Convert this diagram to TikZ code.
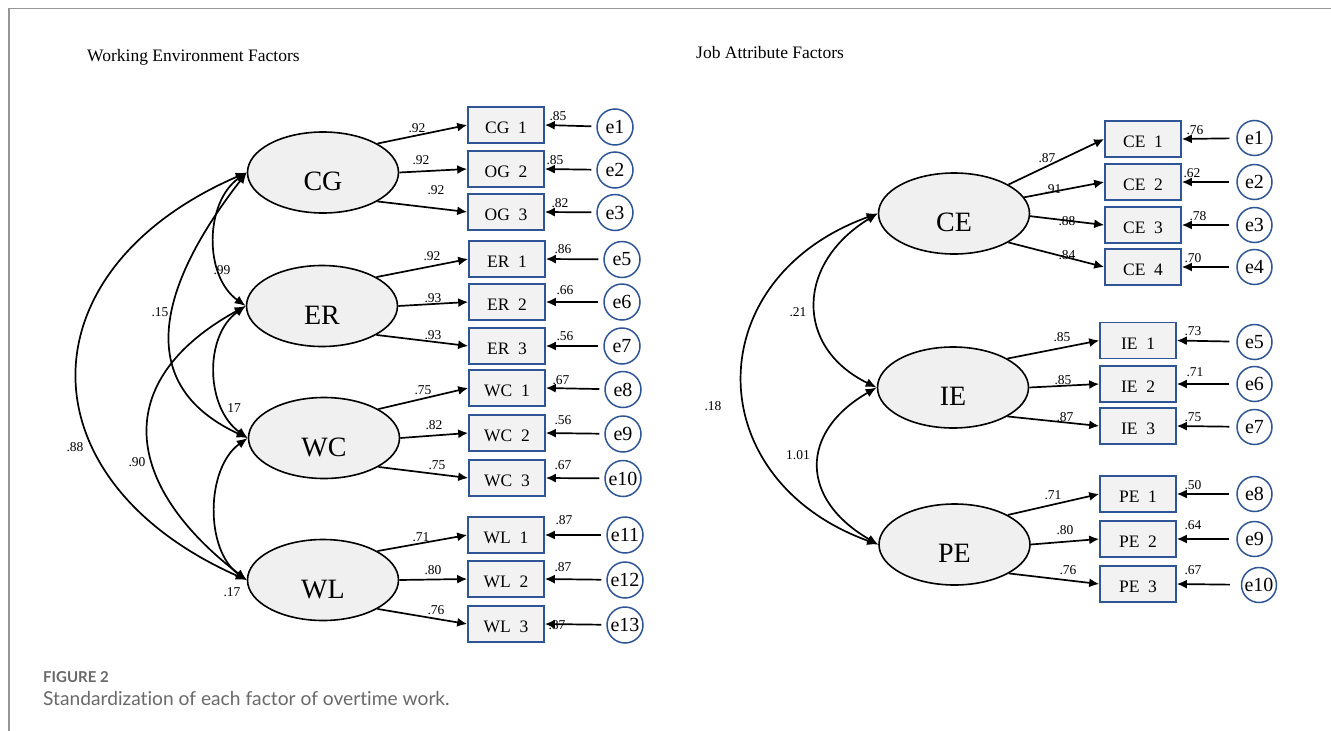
\documentclass[tikz,border=0pt]{standalone}
\usepackage{fontspec}
\setmainfont{Liberation Serif}
\newfontfamily\capfont[Ligatures={NoCommon}]{Lato}
\usetikzlibrary{arrows.meta,shapes.geometric}
\definecolor{boxblue}{RGB}{47,85,151}
\definecolor{boxfill}{RGB}{242,242,242}
\definecolor{latfill}{RGB}{240,240,240}
\definecolor{framegray}{RGB}{150,150,150}
\definecolor{capgray}{RGB}{105,105,105}
\begin{document}
\begin{tikzpicture}[x=1pt,y=-1pt,
 lat/.style={ellipse,draw,line width=1.6pt,fill=latfill,minimum width=151pt,minimum height=81pt,inner sep=0pt,text height=36pt,text depth=0pt,font=\fontsize{28}{30}\selectfont},
 obs/.style={rectangle,draw=boxblue,line width=1.6pt,fill=boxfill,minimum width=76pt,minimum height=36pt,inner sep=0pt,text height=17.5pt,text depth=0pt,font=\fontsize{17.5}{20}\selectfont},
 err/.style={circle,draw=boxblue,line width=1.5pt,minimum size=36pt,inner sep=0pt,font=\fontsize{20}{22}\selectfont},
 num/.style={inner sep=0pt,font=\fontsize{13.5}{14}\selectfont},
 ttl/.style={inner sep=0pt,anchor=west,font=\fontsize{17.5}{20}\selectfont},
 arr/.style={line width=1.7pt,-{Latex[length=10pt,width=9pt]}},
 earr/.style={line width=1.7pt,-{Latex[length=10pt,width=9pt]},shorten <=5pt},
 cov/.style={line width=1.7pt,{Latex[length=11pt,width=9pt]}-{Latex[length=11pt,width=9pt]}},
]
\useasboundingbox (0,0) rectangle (1331,731);
\fill[white] (0,0) rectangle (1331,731);
\draw[framegray,line width=1.3pt] (1331,8.5) -- (9,8.5) -- (9,731);

% titles
\node[ttl] (t1) at (87,57) {Working Environment Factors};
\node[ttl] (t2) at (696,53) {Job Attribute Factors};

% caption
\node[inner sep=0pt,anchor=west,text=capgray,font=\capfont\bfseries\fontsize{15}{16}\selectfont] (cap1) at (43,677) {FIGURE 2};
\node[inner sep=0pt,anchor=west,text=capgray,font=\capfont\fontsize{19.2}{21}\selectfont] (cap2) at (43,698) {Standardization of each factor of overtime work.};

% ---------------- left model ----------------
\node[lat] (CG) at (323,172.5) {CG};
\node[lat] (ER) at (322,306) {ER};
\node[lat] (WC) at (324,438) {WC};
\node[lat] (WL) at (323,580) {WL};

\node[obs] (CG1) at (506,125) {CG\ \ 1};
\node[obs] (OG2) at (506,169) {OG\ \ 2};
\node[obs] (OG3) at (506,212) {OG\ \ 3};
\node[obs] (ER1) at (507,259) {ER\ \ 1};
\node[obs] (ER2) at (507,302) {ER\ \ 2};
\node[obs] (ER3) at (507,346) {ER\ \ 3};
\node[obs] (WC1) at (507,388) {WC\ \ 1};
\node[obs] (WC2) at (507,433) {WC\ \ 2};
\node[obs] (WC3) at (507,478) {WC\ \ 3};
\node[obs] (WL1) at (506,535) {WL\ \ 1};
\node[obs] (WL2) at (506,579) {WL\ \ 2};
\node[obs] (WL3) at (506,624) {WL\ \ 3};

\node[err] (a1) at (615,127) {e1};
\node[err] (a2) at (615,170) {e2};
\node[err] (a3) at (615,212.5) {e3};
\node[err] (a5) at (622,259.5) {e5};
\node[err] (a6) at (622,302) {e6};
\node[err] (a7) at (622,346) {e7};
\node[err] (a8) at (623,389.5) {e8};
\node[err] (a9) at (623,434) {e9};
\node[err] (a10) at (623,478.5) {e10};
\node[err] (a11) at (625,535) {e11};
\node[err] (a12) at (625,580) {e12};
\node[err] (a13) at (625,625) {e13};

\draw[arr] (CG.28) -- (CG1.west);
\draw[arr] (CG.0) -- (OG2.west);
\draw[arr] (CG.-28) -- (OG3.west);
\draw[arr] (ER.28) -- (ER1.west);
\draw[arr] (ER.0) -- (ER2.west);
\draw[arr] (ER.-28) -- (ER3.west);
\draw[arr] (WC.28) -- (WC1.west);
\draw[arr] (WC.0) -- (WC2.west);
\draw[arr] (WC.-28) -- (WC3.west);
\draw[arr] (WL.28) -- (WL1.west);
\draw[arr] (WL.0) -- (WL2.west);
\draw[arr] (WL.-28) -- (WL3.west);

\draw[earr] (a1) -- (CG1.east);
\draw[earr] (a2) -- (OG2.east);
\draw[earr] (a3) -- (OG3.east);
\draw[earr] (a5) -- (ER1.east);
\draw[earr] (a6) -- (ER2.east);
\draw[earr] (a7) -- (ER3.east);
\draw[earr] (a8) -- (WC1.east);
\draw[earr] (a9) -- (WC2.east);
\draw[earr] (a10) -- (WC3.east);
\draw[earr] (a11) -- (WL1.east);
\draw[earr] (a12) -- (WL2.east);
\draw[earr] (a13) -- (WL3.east);

\node[num] (l1) at (417,128) {.92};
\node[num] (l2) at (421,160) {.92};
\node[num] (l3) at (436,190) {.92};
\node[num] (l4) at (432,256) {.92};
\node[num] (l5) at (433,298) {.93};
\node[num] (l6) at (433,335) {.93};
\node[num] (l7) at (423,390) {.75};
\node[num] (l8) at (434,425) {.82};
\node[num] (l9) at (437,465) {.75};
\node[num] (l10) at (421,537) {.71};
\node[num] (l11) at (433,570) {.80};
\node[num] (l12) at (436,610) {.76};

\node[num] (r1) at (558,116) {.85};
\node[num] (r2) at (555,160) {.85};
\node[num] (r3) at (560,203) {.82};
\node[num] (r4) at (563,249) {.86};
\node[num] (r5) at (565,290) {.66};
\node[num] (r6) at (565,336) {.56};
\node[num] (r7) at (561,380) {.67};
\node[num] (r8) at (563,420) {.56};
\node[num] (r9) at (563,465) {.67};
\node[num] (r10) at (564,520) {.87};
\node[num] (r11) at (563,567) {.87};
\node[num] (r12) at (557,625) {.87};

\draw[cov] (CG.west) .. controls +(-42,30) and +(-42,-30) .. (ER.west);
\draw[cov] (ER.west) .. controls +(-42,30) and +(-42,-30) .. (WC.west);
\draw[cov] (WC.west) .. controls +(-42,30) and +(-42,-30) .. (WL.west);
\draw[cov] (CG.west) .. controls +(-70,90) and +(-130,-60) .. (WC.west);
\draw[cov] (ER.west) .. controls +(-136.5,75) and +(-123.5,-95) .. (WL.west);
\draw[cov] (CG.west) .. controls +(-225,97.5) and +(-225.5,-100) .. (WL.west);

\node[num] (c1) at (222,270) {.99};
\node[num] (c2) at (160,312) {.15};
\node[num] (c3) at (234,408) {17};
\node[num] (c4) at (75,447) {.88};
\node[num] (c5) at (137,462) {.90};
\node[num] (c6) at (232,592) {.17};

% ---------------- right model ----------------
\node[lat] (CE) at (954,213.5) {CE};
\node[lat] (IE) at (953,387.5) {IE};
\node[lat] (PE) at (954.5,544.5) {PE};

\node[obs] (CE1) at (1143,139) {CE\ \ 1};
\node[obs] (CE2) at (1143,182) {CE\ \ 2};
\node[obs] (CE3) at (1143,225) {CE\ \ 3};
\node[obs] (CE4) at (1143,267) {CE\ \ 4};
\node[obs] (IE1) at (1138,340.5) {IE\ \ 1};
\node[obs] (IE2) at (1138,384) {IE\ \ 2};
\node[obs] (IE3) at (1138,426) {IE\ \ 3};
\node[obs] (PE1) at (1138,494) {PE\ \ 1};
\node[obs] (PE2) at (1138,539) {PE\ \ 2};
\node[obs] (PE3) at (1138,584) {PE\ \ 3};

\node[err,minimum size=35pt] (b1) at (1254.5,138) {e1};
\node[err,minimum size=35pt] (b2) at (1254.5,182) {e2};
\node[err,minimum size=35pt] (b3) at (1254.5,225) {e3};
\node[err,minimum size=35pt] (b4) at (1254.5,267) {e4};
\node[err,minimum size=35pt] (b5) at (1254.5,342) {e5};
\node[err,minimum size=35pt] (b6) at (1254.5,384) {e6};
\node[err,minimum size=35pt] (b7) at (1254.5,427) {e7};
\node[err,minimum size=35pt] (b8) at (1254.5,494) {e8};
\node[err,minimum size=35pt] (b9) at (1254.5,539) {e9};
\node[err,minimum size=35pt] (b10) at (1259,585) {e10};

\draw[arr] (CE.28) -- (CE1.west);
\draw[arr] (CE.13) -- (CE2.west);
\draw[arr] (CE.-2) -- (CE3.west);
\draw[arr] (CE.-28) -- (CE4.west);
\draw[arr] (IE.28) -- (IE1.west);
\draw[arr] (IE.0) -- (IE2.west);
\draw[arr] (IE.-28) -- (IE3.west);
\draw[arr] (PE.29) -- (PE1.west);
\draw[arr] (PE.0) -- (PE2.west);
\draw[arr] (PE.-28) -- (PE3.west);

\draw[earr,shorten <=7pt] (b1) -- (CE1.east);
\draw[earr,shorten <=7pt] (b2) -- (CE2.east);
\draw[earr,shorten <=7pt] (b3) -- (CE3.east);
\draw[earr,shorten <=7pt] (b4) -- (CE4.east);
\draw[earr,shorten <=7pt] (b5) -- (IE1.east);
\draw[earr,shorten <=7pt] (b6) -- (IE2.east);
\draw[earr,shorten <=7pt] (b7) -- (IE3.east);
\draw[earr,shorten <=7pt] (b8) -- (PE1.east);
\draw[earr,shorten <=7pt] (b9) -- (PE2.east);
\draw[earr,shorten <=11pt] (b10) -- (PE3.east);

\node[num] (m1) at (1047,158) {.87};
\node[num] (m2) at (1053,189) {.91};
\node[num] (m3) at (1067,221) {.88};
\node[num] (m4) at (1067,255) {.84};
\node[num] (m5) at (1062,337) {.85};
\node[num] (m6) at (1063,380) {.85};
\node[num] (m7) at (1065,417) {.87};
\node[num] (m8) at (1053,495) {.71};
\node[num] (m9) at (1065,530) {.80};
\node[num] (m10) at (1068,570) {.76};

\node[num] (s1) at (1195,130) {.76};
\node[num] (s2) at (1192,173) {.62};
\node[num] (s3) at (1198,216) {.78};
\node[num] (s4) at (1193,258) {.70};
\node[num] (s5) at (1193,331) {.73};
\node[num] (s6) at (1195,372) {.71};
\node[num] (s7) at (1193,417) {.75};
\node[num] (s8) at (1193,485) {.50};
\node[num] (s9) at (1193,525) {.64};
\node[num] (s10) at (1193,570) {.67};

\draw[cov] (CE.west) .. controls +(-82,50) and +(-82,-40) .. (IE.west);
\draw[cov] (IE.west) .. controls +(-78,45) and +(-78,-45) .. (PE.west);
\draw[cov] (CE.west) .. controls +(-180,65) and +(-180,-65) .. (PE.west);

\node[num] (d1) at (798,312) {.21};
\node[num] (d2) at (713,406) {.18};
\node[num] (d3) at (798,455) {1.01};
\end{tikzpicture}
\end{document}
